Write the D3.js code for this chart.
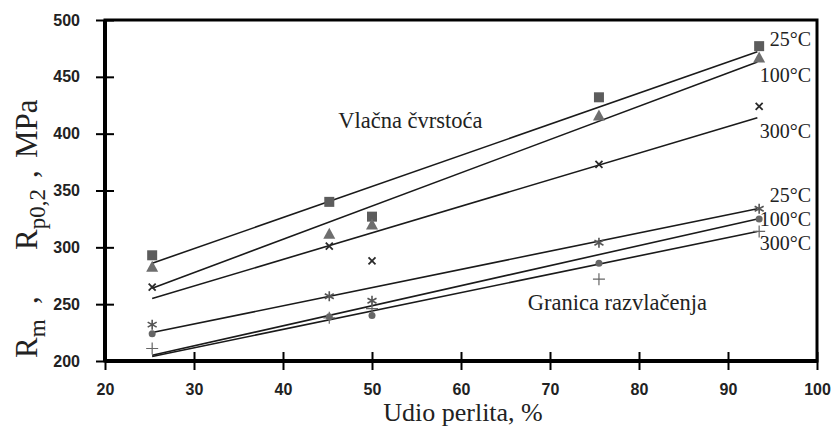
<!DOCTYPE html>
<html>
<head>
<meta charset="utf-8">
<script src="https://cdn.jsdelivr.net/npm/d3@7"></script>
<style>
  body { margin: 0; background: #fff; }
  svg { display: block; }
</style>
</head>
<body>
<div id="chart"></div>
<script>
// pearlite share (%) at which the samples were measured
const perlite = [25.3, 45.2, 50, 75.5, 93.5];

// measured values, MPa
const rm25  = [293, 340, 327, 432, 477];
const rm100 = [283, 312, 320, 416, 467];
const rm300 = [265, 301, 288, 373, 424];
const rp25  = [232, 257, 253, 304, 334];
const rp100 = [224, 239, 240, 286, 325];
const rp300 = [211, 238, 246, 272, 314];

// fitted lines as drawn: value at the start and end of the fit
const fitX     = [25.3, 93.3];
const fitRm25  = [286, 472];
const fitRm100 = [264, 463];
const fitRm300 = [255, 414];
const fitRp25  = [225, 334];
const fitRp100 = [205, 325];
const fitRp300 = [204, 314];

const xTicks = [20, 30, 40, 50, 60, 70, 80, 90, 100];
const yTicks = [200, 250, 300, 350, 400, 450, 500];

const series = [
  {vals: rm25,  fit: fitRm25,  sym: "square"},
  {vals: rm100, fit: fitRm100, sym: "triangle"},
  {vals: rm300, fit: fitRm300, sym: "cross"},
  {vals: rp25,  fit: fitRp25,  sym: "star"},
  {vals: rp100, fit: fitRp100, sym: "dot"},
  {vals: rp300, fit: fitRp300, sym: "plus"}
];

const W = 832, H = 431;
const margin = {top: 20, right: 15, bottom: 70, left: 105};
const width = W - margin.left - margin.right;
const height = H - margin.top - margin.bottom;

const root = d3.select("#chart").append("svg")
  .attr("width", W)
  .attr("height", H);

const svg = root.append("g")
  .attr("transform", `translate(${margin.left},${margin.top})`);

const x = d3.scaleLinear().domain([20, 100]).range([0, width]);
const y = d3.scaleLinear().domain([200, 500]).range([height, 0]);

// frame (top + right)
svg.append("rect")
  .attr("x", 0).attr("y", 0)
  .attr("width", width).attr("height", height)
  .attr("fill", "none")
  .attr("stroke", "#000")
  .attr("stroke-width", 3);

const xAxis = svg.append("g")
  .attr("transform", `translate(0,${height})`)
  .call(d3.axisBottom(x).tickValues(xTicks).tickSize(8).tickPadding(15));
xAxis.select(".domain").attr("stroke-width", 4).attr("d", `M0,0H${width}`);
xAxis.selectAll(".tick line").attr("y1", -9).attr("y2", 9).attr("stroke-width", 2);

const yAxis = svg.append("g")
  .call(d3.axisLeft(y).tickValues(yTicks).tickSize(8).tickPadding(17));
yAxis.select(".domain").attr("stroke-width", 4).attr("d", `M0,0V${height}`);
yAxis.selectAll(".tick line").attr("x1", 9).attr("x2", -9).attr("stroke-width", 2);

svg.selectAll(".tick text")
  .style("font-family", "Liberation Sans, Arial, sans-serif")
  .style("font-size", "16px")
  .style("font-weight", "bold")
  .attr("fill", "#222");

// fit lines
series.forEach(s => {
  svg.append("line")
    .attr("x1", x(fitX[0])).attr("y1", y(s.fit[0]))
    .attr("x2", x(fitX[1])).attr("y2", y(s.fit[1]))
    .attr("stroke", "#1a1a1a")
    .attr("stroke-width", 1.6);
});

// markers
function drawMarker(g, sym) {
  if (sym == "square") {
    g.append("rect").attr("x", -5).attr("y", -5).attr("width", 10).attr("height", 10).attr("fill", "#5c5c5c");
  } else if (sym == "triangle") {
    g.append("path").attr("d", "M0,-6L6,5H-6Z").attr("fill", "#6e6e6e");
  } else if (sym == "cross") {
    g.append("path").attr("d", "M-3.5,-3.5L3.5,3.5M3.5,-3.5L-3.5,3.5").attr("stroke", "#2a2a2a").attr("stroke-width", 1.8);
  } else if (sym == "star") {
    g.append("path").attr("d", "M0,-5V5M-4.5,-2.5L4.5,2.5M4.5,-2.5L-4.5,2.5").attr("stroke", "#555").attr("stroke-width", 1.6);
  } else if (sym == "dot") {
    g.append("circle").attr("r", 3.5).attr("fill", "#666");
  } else {
    g.append("path").attr("d", "M0,-6V6M-6,0H6").attr("stroke", "#666").attr("stroke-width", 1.2);
  }
}

series.forEach(s => {
  svg.selectAll(null)
    .data(s.vals)
    .enter()
    .append("g")
    .attr("transform", (d, i) => `translate(${x(perlite[i])},${y(d)})`)
    .each(function() { drawMarker(d3.select(this), s.sym); });
});

const serif = "Liberation Serif, Times New Roman, serif";

// temperature labels
const tempLabels = [
  {t: "25°C",  v: 477.5},
  {t: "100°C", v: 445.5},
  {t: "300°C", v: 396},
  {t: "25°C",  v: 340},
  {t: "100°C", v: 319},
  {t: "300°C", v: 298}
];
svg.selectAll(".temp")
  .data(tempLabels)
  .enter()
  .append("text")
  .attr("class", "temp")
  .attr("x", width - 6)
  .attr("y", d => y(d.v))
  .attr("text-anchor", "end")
  .style("font-family", serif)
  .style("font-size", "20px")
  .attr("fill", "#222")
  .text(d => d.t);

svg.append("text")
  .attr("x", x(46.2))
  .attr("y", y(405))
  .style("font-family", serif)
  .style("font-size", "22.5px")
  .attr("fill", "#222")
  .text("Vlačna čvrstoća");

svg.append("text")
  .attr("x", x(67.5))
  .attr("y", y(245))
  .style("font-family", serif)
  .style("font-size", "22.5px")
  .attr("fill", "#222")
  .text("Granica razvlačenja");

// axis titles
root.append("text")
  .attr("x", 463)
  .attr("y", 421)
  .attr("text-anchor", "middle")
  .style("font-family", serif)
  .style("font-size", "26px")
  .attr("fill", "#222")
  .text("Udio perlita, %");

const yt = root.append("text")
  .attr("transform", "translate(37,0) rotate(-90)")
  .style("font-family", serif)
  .style("font-size", "31px")
  .attr("fill", "#222");
yt.append("tspan").attr("x", -358).text("R");
yt.append("tspan").attr("dy", 8).style("font-size", "23px").text("m");
yt.append("tspan").attr("dy", -8).attr("x", -304).text(",");
yt.append("tspan").attr("x", -250).text("R");
yt.append("tspan").attr("dy", 8).style("font-size", "23px").text("p0,2");
yt.append("tspan").attr("dy", -8).attr("x", -178).text(",");
yt.append("tspan").attr("x", -158).text("MPa");
</script>
</body>
</html>
